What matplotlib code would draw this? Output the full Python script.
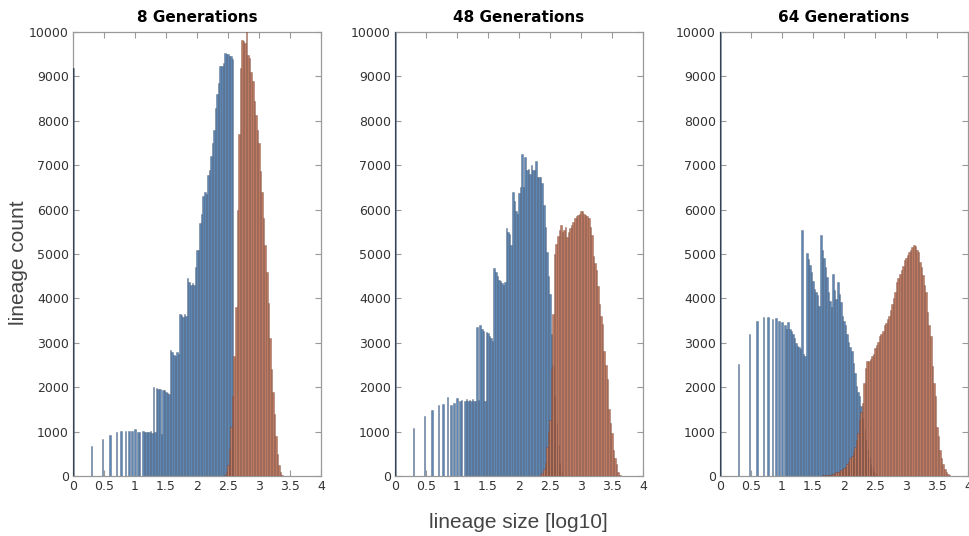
import numpy as np
import matplotlib
matplotlib.use("Agg")
from matplotlib import pyplot as plt
from matplotlib.ticker import FormatStrFormatter

# histogram bins of log10(lineage size), bars centred on multiples of bin_width
bin_width = 0.025

titles = ["8 Generations", "48 Generations", "64 Generations"]

# blue: counts per bin, starting at log10 size = 0 (one value per bin)
blue_8 = [
    9200, 0, 0, 0, 0, 0, 0, 0, 0, 0, 0, 0, 670, 0, 0, 0, 0, 0, 0, 840,
    0, 0, 0, 0, 930, 0, 0, 0, 980, 0, 0, 1010, 0, 0, 1020, 0, 1020, 0, 1010, 0,
    1060, 0, 1000, 1000, 0, 1020, 990, 990, 1000, 980, 1010, 960, 2000, 980, 1990, 1950, 1960, 950, 1930, 1940,
    1900, 1880, 1850, 2830, 2800, 2730, 2700, 2790, 2750, 3640, 3620, 3580, 3650, 3600, 4450, 4380, 4300, 4350, 4300, 4700,
    5100, 5100, 5700, 5900, 6300, 6400, 6350, 6780, 6900, 7200, 7500, 7800, 8290, 8600, 8850, 9230, 9230, 9300, 9530, 9500,
    9500, 9450, 9450, 9400,
]
blue_48 = [
    10500, 0, 0, 0, 0, 0, 0, 0, 0, 0, 0, 0, 1080, 0, 0, 0, 0, 0, 0, 1360,
    0, 0, 0, 0, 1480, 0, 0, 0, 1590, 0, 0, 1630, 0, 0, 1770, 0, 1590, 0, 1650, 0,
    1750, 0, 1700, 1720, 0, 1690, 1730, 1700, 1720, 1690, 1740, 1700, 1700, 3350, 1720, 3400, 3300, 3270, 1700, 3250,
    3230, 3150, 3100, 3050, 4690, 4590, 4500, 4420, 4400, 4350, 4300, 4380, 5590, 5500, 5460, 5200, 6400, 6200, 5960, 5900,
    6380, 6500, 7250, 6500, 7190, 6900, 6920, 6800, 7000, 6900, 6900, 7100, 6730, 6730, 6730, 6600, 6100, 5600, 5040, 4500,
    4110, 3190, 2500, 1800, 1200, 700, 300, 100,
]
blue_64 = [
    10500, 0, 0, 0, 0, 0, 0, 0, 0, 0, 0, 0, 2530, 0, 0, 0, 0, 0, 0, 3200,
    0, 0, 0, 0, 3500, 0, 0, 0, 3580, 0, 0, 3580, 0, 0, 3540, 0, 3550, 0, 3500, 0,
    3460, 0, 3390, 3310, 3460, 3300, 3270, 3200, 3100, 3000, 2930, 2900, 2860, 5530, 2750, 2700, 5020, 4880, 4750, 4600,
    4400, 4220, 4150, 4070, 3840, 5420, 5100, 4900, 4700, 4480, 4140, 3950, 3800, 4560, 4200, 3990, 4370, 4100, 3920, 3610,
    3500, 3390, 3200, 3010, 2900, 2820, 2550, 2330, 2020, 1900, 1800, 1570, 1300, 1050, 800, 600, 420, 280, 180, 100,
    50, 20,
]

# red: counts per bin, starting at the given log10 size
red_8_start = 2.45
red_8 = [
    30, 100, 250, 600, 1100, 1800, 2700, 3800, 6000, 7700, 9200, 9830, 9800, 9750, 10050, 9490, 9410, 9100, 8890, 8440,
    8140, 7800, 7500, 6860, 6400, 5800, 5200, 4600, 3900, 3100, 2400, 1900, 1400, 900, 500, 250, 80, 20,
]
red_48_start = 2.35
red_48 = [
    20, 60, 150, 300, 650, 1000, 1270, 2420, 3650, 5000, 5230, 5400, 5540, 5650, 5500, 5540, 5600, 5380, 5500, 5580,
    5650, 5730, 5800, 5850, 5880, 5900, 5960, 5960, 5900, 5880, 5850, 5800, 5600, 5420, 4960, 4800, 4650, 4270, 3880, 3600,
    3420, 2810, 2500, 2190, 1500, 1200, 960, 580, 400, 270, 80, 20,
]
red_64_start = 1.6
red_64 = [
    10, 10, 12, 14, 15, 18, 25, 30, 40, 50, 60, 80, 100, 110, 130, 150, 170, 200, 260, 320,
    400, 450, 550, 660, 800, 960, 1260, 1450, 1640, 2100, 2440, 2590, 2600, 2630, 2700, 2740, 2890, 2950, 3010, 3160,
    3200, 3270, 3390, 3450, 3540, 3600, 3730, 3880, 4000, 4140, 4370, 4450, 4560, 4650, 4730, 4860, 4900, 4980, 5050, 5090,
    5150, 5200, 5170, 5100, 5050, 4830, 4700, 4520, 4300, 4140, 3690, 3400, 3160, 2480, 2100, 1800, 1110, 900, 580, 400,
    280, 150, 90, 40, 15,
]

blue_list = [blue_8, blue_48, blue_64]
red_list = [(red_8_start, red_8), (red_48_start, red_48), (red_64_start, red_64)]

x_ticks = [0, 0.5, 1, 1.5, 2, 2.5, 3, 3.5, 4]
y_ticks = list(range(0, 10001, 1000))

blue_face = "#5d88b5"
blue_edge = (0.1, 0.15, 0.25, 0.45)
red_face = "#bd7a60"
red_edge = (0.3, 0.1, 0.06, 0.45)

fig = plt.figure(figsize=(9.7, 5.36), dpi=100)
lefts = [73 / 970, 395 / 970, 720 / 970]

for k in range(3):
    ax = fig.add_axes([lefts[k], 60 / 536, 248 / 970, 444 / 536])

    b = np.array(blue_list[k], dtype=float)
    bx = np.arange(len(b)) * bin_width
    keep = b > 0
    ax.bar(bx[keep], b[keep], width=bin_width, color=blue_face,
           edgecolor=blue_edge, linewidth=0.4, zorder=2)
    # the size-1 bar sits on the y axis and reads as a dark line
    ax.bar(bx[:1], b[:1], width=bin_width, color="#39424c", zorder=4)

    start, r = red_list[k]
    r = np.array(r, dtype=float)
    rx = start + np.arange(len(r)) * bin_width
    ax.bar(rx, r, width=bin_width, color=red_face,
           edgecolor=red_edge, linewidth=0.4, zorder=3)

    ax.set_xlim(0, 4)
    ax.set_ylim(0, 10000)
    ax.set_xticks(x_ticks)
    ax.set_yticks(y_ticks)
    ax.xaxis.set_major_formatter(FormatStrFormatter("%g"))
    ax.tick_params(direction="in", length=4, width=0.8, colors="#999999",
                   labelcolor="#333333", labelsize=9, top=True, right=True, pad=3)
    for s in ax.spines.values():
        s.set_color("#999999")
        s.set_linewidth(0.9)
    ax.set_title(titles[k], fontweight="bold", fontsize=11, pad=7)

fig.text(0.019, 0.51, "lineage count", rotation=90, ha="center", va="center",
         fontsize=15, color="#444444", family="Liberation Sans")
fig.text(0.534, 0.026, "lineage size [log10]", ha="center", va="center",
         fontsize=15, color="#444444", family="Liberation Sans")

plt.savefig("out.png", dpi=100)
